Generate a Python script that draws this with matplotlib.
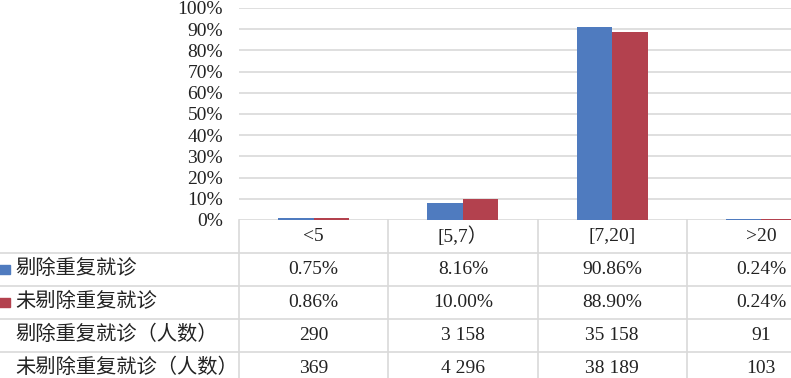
import matplotlib as mpl
mpl.use('Agg')
import matplotlib.pyplot as plt
from matplotlib.patches import Rectangle

# data
categories = ['<5', '[5,7）', '[7,20]', '>20']
dedup_pct = [0.75, 8.16, 90.86, 0.24]
raw_pct = [0.86, 10.00, 88.90, 0.24]
dedup_count = ['290', '3 158', '35 158', '91']
raw_count = ['369', '4 296', '38 189', '103']
row_names = ['剔除重复就诊', '未剔除重复就诊', '剔除重复就诊（人数）', '未剔除重复就诊（人数）']
yticks = list(range(0, 101, 10))

blue = '#4F7BBF'
red = '#B3414E'
grid_c = '#D9D9D9'

plt.rcParams['font.family'] = ['Liberation Serif', 'Noto Sans CJK SC']
plt.rcParams['font.size'] = 14

W, H = 791, 378
fig = plt.figure(figsize=(W / 100, H / 100), dpi=100)

def fx(px):
    return px / W

def fy(py):
    return 1 - py / H

# plot area runs past the right edge of the picture, like the original crop
left, right, top, bottom = 239, 836, 8, 220
col_w = (right - left) / 4
ax = fig.add_axes([fx(left), fy(bottom), (right - left) / W, (bottom - top) / H])
bw = 35.5 / col_w
xs = [i + 0.5 for i in range(len(categories))]
ax.bar([x - bw / 2 for x in xs], dedup_pct, width=bw, color=blue, zorder=3)
ax.bar([x + bw / 2 for x in xs], raw_pct, width=bw, color=red, zorder=3)
ax.set_xlim(0, 4)
ax.set_ylim(0, 100)
ax.set_yticks(yticks)
ax.set_yticklabels([f'{t}%' for t in yticks], color='#222222')
ax.set_xticks([])
ax.yaxis.grid(True, color=grid_c, lw=1.2)
ax.set_axisbelow(True)
ax.tick_params(axis='y', length=0, pad=11.5)
for s in ax.spines.values():
    s.set_visible(False)

# data table under the chart
tab = fig.add_axes([fx(left), fy(385), (right - left) / W, 165 / H])
tab.set_xlim(0, 4)
tab.set_ylim(5, 0)
tab.axis('off')
x_lab = (15 - left) / col_w
x_edge = (0 - left) / col_w
for r in range(1, 6):
    tab.plot([x_edge, 4], [r, r], color=grid_c, lw=1.2, clip_on=False)
for c in range(5):
    tab.plot([c, c], [0, 5], color=grid_c, lw=1.2, clip_on=False)

rows = [[f'{v:.2f}%' for v in dedup_pct],
        [f'{v:.2f}%' for v in raw_pct],
        dedup_count,
        raw_count]
for i, cat in enumerate(categories):
    tab.text(i + 0.5, 0.5, cat, ha='center', va='center', color='#222222', clip_on=False)
for r, vals in enumerate(rows, start=1):
    tab.text(x_lab, r + 0.5, row_names[r - 1], ha='left', va='center', color='#222222',
             fontsize=14.6, clip_on=False)
    for i, v in enumerate(vals):
        tab.text(i + 0.5, r + 0.5, v, ha='center', va='center', color='#222222', clip_on=False)

# legend keys in the first two rows
sq_w = 11 / col_w
sq_h = 9 / 33
for r, colr in [(1, blue), (2, red)]:
    tab.add_patch(Rectangle((x_edge - 1 / col_w, r + 0.5 - sq_h / 2), sq_w, sq_h,
                            color=colr, clip_on=False))

fig.savefig('out.png', dpi=100)
